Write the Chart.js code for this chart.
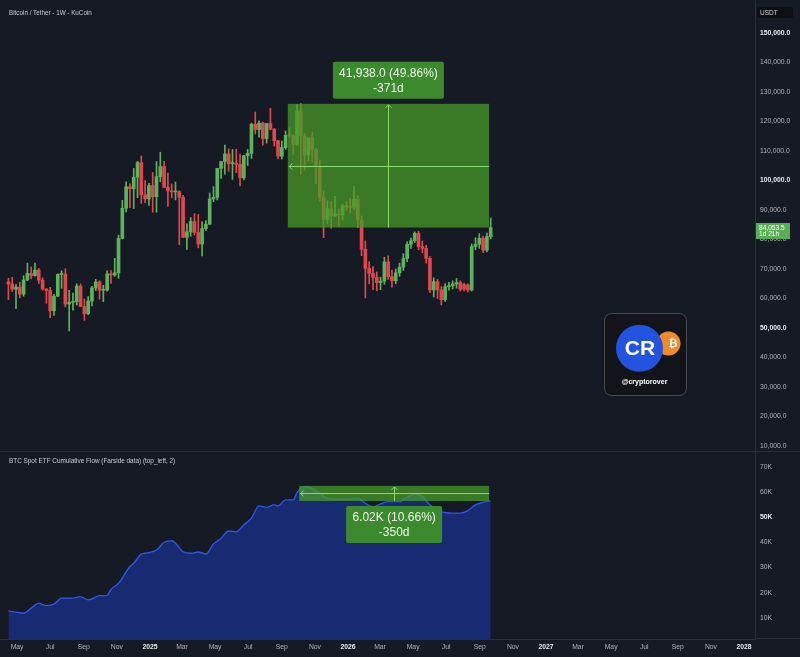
<!DOCTYPE html>
<html><head><meta charset="utf-8">
<script src="https://cdn.jsdelivr.net/npm/chart.js@4.4.1/dist/chart.umd.min.js"></script>
<style>
html,body{margin:0;padding:0;background:#161a25;}
#wrap{position:relative;width:800px;height:657px;background:#161a25;overflow:hidden;font-family:"Liberation Sans",Arial,sans-serif;}
canvas{position:absolute;left:0;}
#c1{top:0;} #c2{top:452px;}
.t{position:absolute;color:#c9ccd4;white-space:nowrap;}
</style></head><body>
<div id="wrap">
<canvas id="c1" width="800" height="452"></canvas>
<canvas id="c2" width="800" height="205"></canvas>
<div class="t" style="left:9px;top:9px;font-size:6.3px;">Bitcoin / Tether - 1W - KuCoin</div>
<div class="t" style="left:9px;top:457px;font-size:6.4px;">BTC Spot ETF Cumulative Flow (Farside data) (top_left, 2)</div>
</div>
<script>
// ---------- DATA ----------
const START_DATE = '2024-04-15'; // first weekly candle
const opens = [65660,64940,63120,63890,61480,66270,68510,67770,69650,66220,63210,62680,55860,60800,68170,68260,58120,58720,58900,64220,57300,54840,59130,63580,65600,62820,62850,68360,67980,68700,80370,90590,97900,97190,101110,106060,95190,93740,98300,94520,101330,104730,97700,96460,96120,96260,94270,80730,82580,86080,82390,78430,83730,85170,93750,94280,104120,106450,109000,105700,105730,105500,100900,108380,109200,119090,117270,119450,114210,119310,117410,113490,108250,111150,115300,115250,112200,123500,115100,108600,114500,110500,104700,94200,86800,90400,88000,88600,88300,91400,91000,90900,93600,86600,76700,70200,68500,67200,65400,65900,72400,67400,66000,68700,70600,73600,78400,79600,82100,77600,77000,73600,62900,65700,62900,59600,64000,64300,64900,65400,64700,64600,62900,77600,78400,80400,76400,81000];
const highs = [66870,67230,64730,65500,67700,71980,70690,72000,70200,67000,63370,63780,61420,68370,69400,70080,62750,61800,65000,64960,59810,60670,64130,66500,66000,64480,69400,69500,73620,81500,93270,99590,98870,104090,106530,108350,99960,99000,102720,106420,109590,106460,102500,98830,99480,96500,95000,85310,87470,88770,88500,86100,86430,95760,97900,104150,105820,111980,110720,110530,110600,108950,108530,110530,119490,123220,120250,119800,119310,124470,117630,113600,113400,116800,117900,115400,125700,126200,115970,114000,116400,110800,107000,96600,93100,92900,94600,90300,92000,92800,94000,97900,95000,88000,79500,72500,70800,69000,67200,74000,74500,69600,70000,72000,75200,79200,80500,82600,82800,79500,78000,74200,67000,66500,64000,65000,65500,66000,66800,66000,65200,65000,78500,80600,82000,81200,82200,87300];
const lows = [59600,62390,56550,60190,60750,66060,66670,67610,65080,62800,58400,53490,54260,60630,63460,57120,49000,56080,57790,57200,52550,54560,57490,62700,59830,58950,62460,65070,67480,66840,80220,89380,90790,90500,94150,92230,92500,91530,89260,89260,99550,97500,91230,94090,93390,78260,80600,76610,81130,81570,77150,74430,83100,85150,92800,93380,100720,102110,103070,100370,102660,98200,100200,105100,107470,115740,114720,112000,112650,117180,111680,107350,107270,110620,114700,108650,111950,102000,103500,106600,106300,98900,93000,80600,85300,83800,87700,84400,86600,89800,89000,90000,84000,74500,60200,65000,63000,62600,63000,64800,66500,63800,65000,67500,69500,72500,77000,79000,76500,75500,72000,62000,60500,60000,57800,59000,62800,63200,63500,62500,62600,62200,62500,76500,77000,75500,75800,80200];
const closes = [64940,63120,63890,61480,66270,68510,67770,69650,66220,63210,62680,55860,60800,68170,68260,58120,58720,58900,64220,57300,54840,59130,63580,65600,62820,62850,68360,67980,68700,80370,90590,97900,97190,101110,106060,95190,93740,98300,94520,101330,104730,97700,96460,96120,96260,94270,80730,82580,86080,82390,78430,83730,85170,93750,94280,104120,106450,109000,105700,105730,105500,100900,108380,109200,119090,117270,119450,114210,119310,117410,113490,108250,111150,115300,115250,112200,123500,115100,108600,114500,110500,104700,94200,86800,90400,88000,88600,88300,91400,91000,90900,93600,86600,76700,70200,68500,67200,65400,65900,72400,67400,66000,68700,70600,73600,78400,79600,82100,77600,77000,73600,62900,65700,62900,59600,64000,64300,64900,65400,63100,63200,62900,77600,78400,80400,76400,81000,84053.5];

// BTC spot ETF cumulative flow (thousands), read at week index
const etfWeeks = [0,2,4,6,8,9,10,12,14,17,19,21,24,26,27,29,32,33,35,36,39,41,43,44,46,48,50,52,54,56,58,60,62,64,66,68,70,71,73,75,76,78,80,82,84,87,90,92,94,96,98,100,103,104,107,109,111,114,117,119,121,123,125,126,127];
const etfFlow  = [12.7,12.2,11.8,13.8,15.8,15.2,14.8,15.4,17.8,17.8,18.4,17.1,18.8,18.9,21.3,23.7,30.4,31.7,35.4,35.7,37.0,40.1,40.7,39.7,36.3,35.7,36.2,35.4,39.4,41.7,44.6,44.3,47.0,49.7,54.6,54.0,55.0,54.6,57.0,57.0,59.9,62.3,61.6,59.6,57.6,57.2,57.2,57.6,55.6,54.3,55.4,56.3,56.3,57.0,59.4,58.3,55.0,52.3,51.7,51.7,52.7,55.0,56.0,56.3,56.6];

const priceTicks = [10000,20000,30000,40000,50000,60000,70000,80000,90000,100000,110000,120000,130000,140000,150000];
const priceBold = [50000,100000,150000];
const flowTicks = [10,20,30,40,50,60,70];
const flowBold = [50];
const monthTickDates = ['2024-05-01','2024-07-01','2024-09-01','2024-11-01','2025-01-01','2025-03-01','2025-05-01','2025-07-01','2025-09-01','2025-11-01','2026-01-01','2026-03-01','2026-05-01','2026-07-01','2026-09-01','2026-11-01','2027-01-01','2027-03-01','2027-05-01','2027-07-01','2027-09-01','2027-11-01','2028-01-01'];
const monthTickLabels = ['May','Jul','Sep','Nov','2025','Mar','May','Jul','Sep','Nov','2026','Mar','May','Jul','Sep','Nov','2027','Mar','May','Jul','Sep','Nov','2028'];

// measurement tools (price range / date range)
const rangeDays = [515, 886];
const rangePrices = [84053.5, 125991.5];
const rangeText = ['41,938.0 (49.86%)', '-371d'];
const flowRangeDays = [536, 886];
const flowRangeValues = [56.55, 62.57];
const flowRangeText = ['6.02K (10.66%)', '-350d'];
const lastPriceCountdown = '1d 21h';

// ---------- HELPERS ----------
const DAY = 86400000;
const dayOf = d => (Date.parse(d) - Date.parse(START_DATE)) / DAY;
const monthTickDays = monthTickDates.map(dayOf);
const X_MIN = -15.5, X_MAX = 1376.2;
const UP = '#5db35a', DOWN = '#e2474e';
const isUp = opens.map((o,i) => closes[i] >= o);
const candleX = opens.map((_, i) => i * 7);
const FONT = '"Liberation Sans", Arial, sans-serif';
Chart.defaults.font.family = FONT;

const fmtPrice = v => Number(v).toLocaleString('en-US', {minimumFractionDigits:1, maximumFractionDigits:1});
const tickVal = c => (c && c.tick) ? c.tick.value : null;
const isYear = c => (c && typeof c.index === 'number' && c.tick) ? /^\d{4}$/.test(monthTickLabels[c.index] || '') : false;

function rrect(ctx, x, y, w, h, r) {
  ctx.beginPath();
  ctx.moveTo(x + r, y); ctx.lineTo(x + w - r, y); ctx.quadraticCurveTo(x + w, y, x + w, y + r);
  ctx.lineTo(x + w, y + h - r); ctx.quadraticCurveTo(x + w, y + h, x + w - r, y + h);
  ctx.lineTo(x + r, y + h); ctx.quadraticCurveTo(x, y + h, x, y + h - r);
  ctx.lineTo(x, y + r); ctx.quadraticCurveTo(x, y, x + r, y); ctx.closePath();
}
function arrowHead(ctx, x, y, dir) {
  ctx.beginPath();
  if (dir === 'up') { ctx.moveTo(x-3, y+3); ctx.lineTo(x, y); ctx.lineTo(x+3, y+3); }
  else { ctx.moveTo(x+3, y-3); ctx.lineTo(x, y); ctx.lineTo(x+3, y+3); }
  ctx.stroke();
}
function drawRange(ctx, xs, ys, days, vals, texts, labelAbove, boxW) {
  const x0 = xs.getPixelForValue(days[0]), x1 = xs.getPixelForValue(days[1]);
  const yT = ys.getPixelForValue(vals[1]), yB = ys.getPixelForValue(vals[0]);
  ctx.save();
  ctx.fillStyle = 'rgba(72,156,40,0.74)';
  ctx.fillRect(x0, yT, x1 - x0, yB - yT);
  const xm = (x0 + x1) / 2, ym = (yT + yB) / 2;
  ctx.strokeStyle = '#86d86f'; ctx.lineWidth = 1;
  ctx.beginPath(); ctx.moveTo(x0 + 1, Math.round(ym) + 0.5); ctx.lineTo(x1, Math.round(ym) + 0.5); ctx.stroke();
  ctx.beginPath(); ctx.moveTo(Math.round(xm) + 0.5, yB); ctx.lineTo(Math.round(xm) + 0.5, yT + 1); ctx.stroke();
  arrowHead(ctx, Math.round(xm) + 0.5, yT + 1, 'up');
  arrowHead(ctx, x0 + 1.5, Math.round(ym) + 0.5, 'left');
  const bh = 37;
  const by = labelAbove ? yT - 5 - bh : yB + 5;
  ctx.fillStyle = '#3b8a2e';
  rrect(ctx, xm - boxW / 2, by, boxW, bh, 2); ctx.fill();
  ctx.fillStyle = '#eef7ea';
  ctx.font = '12px ' + FONT;
  ctx.textAlign = 'center'; ctx.textBaseline = 'middle';
  ctx.fillText(texts[0], xm, by + 12);
  ctx.fillText(texts[1], xm, by + 27);
  ctx.restore();
}

const commonX = {
  type: 'linear', min: X_MIN, max: X_MAX, offset: false,
  grid: {display: false}
};

// ---------- TOP: price pane ----------
const topPlugin = {
  id: 'topOverlay',
  afterDatasetsDraw(chart) {
    const {ctx, scales: {x, y}} = chart;
    drawRange(ctx, x, y, rangeDays, rangePrices, rangeText, true, 111);
  },
  afterDraw(chart) {
    const {ctx, scales: {y}} = chart;
    ctx.save();
    ctx.fillStyle = '#2a2e39';
    ctx.fillRect(0, 451, 800, 1);
    ctx.fillStyle = '#0e0f13';
    rrect(ctx, 757, 7, 36, 11, 2); ctx.fill();
    ctx.fillStyle = '#d1d4dc'; ctx.font = '6.5px ' + FONT;
    ctx.textAlign = 'left'; ctx.textBaseline = 'middle';
    ctx.fillText('USDT', 760, 12.8);
    const last = closes[closes.length - 1];
    const py = y.getPixelForValue(last);
    ctx.fillStyle = '#59ad55';
    ctx.fillRect(756, py - 4.5, 34, 16);
    ctx.fillStyle = '#ffffff'; ctx.font = '6.6px ' + FONT;
    ctx.fillText(fmtPrice(last), 759, py + 0.5);
    ctx.fillText(lastPriceCountdown, 759, py + 7);
    ctx.fillStyle = '#121419';
    ctx.strokeStyle = 'rgba(255,255,255,0.22)'; ctx.lineWidth = 1;
    rrect(ctx, 604.5, 313.5, 82, 82, 8); ctx.fill(); ctx.stroke();
    ctx.fillStyle = '#f08a2c';
    ctx.beginPath(); ctx.arc(668.5, 343.5, 12, 0, Math.PI * 2); ctx.fill();
    ctx.fillStyle = '#ffffff'; ctx.font = 'bold 11px ' + FONT; ctx.textAlign = 'center';
    ctx.fillText('₿', 673, 344);
    ctx.fillStyle = '#2354e0';
    ctx.beginPath(); ctx.arc(639.5, 348.3, 23.5, 0, Math.PI * 2); ctx.fill();
    ctx.fillStyle = '#ffffff'; ctx.font = 'bold 21px ' + FONT;
    ctx.fillText('CR', 640, 349);
    ctx.font = 'bold 7px ' + FONT;
    ctx.fillText('@cryptorover', 644.5, 382);
    ctx.restore();
  }
};

new Chart(document.getElementById('c1'), {
  type: 'bar',
  data: {
    datasets: [
      {
        label: 'wick', order: 2, grouped: false, barThickness: 1,
        data: candleX.map((x, i) => ({x, y: [lows[i], highs[i]]})),
        backgroundColor: isUp.map(u => u ? UP : DOWN)
      },
      {
        label: 'body', order: 1, grouped: false, barThickness: 3, minBarLength: 1,
        data: candleX.map((x, i) => ({x, y: [opens[i], closes[i]]})),
        backgroundColor: isUp.map(u => u ? UP : DOWN)
      }
    ]
  },
  options: {
    responsive: false, animation: false, devicePixelRatio: 1,
    layout: {padding: 0},
    plugins: {legend: {display: false}, tooltip: {enabled: false}},
    scales: {
      x: Object.assign({}, commonX, {display: false}),
      y: {
        type: 'linear', position: 'right', min: 7966, max: 161186,
        grid: {display: false, drawTicks: false},
        border: {display: true, color: '#2a2e39'},
        afterBuildTicks: s => { s.ticks = priceTicks.map(v => ({value: v})); },
        afterFit: s => { s.width = 45; s.paddingTop = 0; s.paddingBottom = 0; },
        ticks: {
          padding: 5,
          callback: v => fmtPrice(v),
          color: c => priceBold.includes(tickVal(c)) ? '#e6e8ee' : '#aeb2bd',
          font: c => ({family: FONT, size: 6.8, weight: priceBold.includes(tickVal(c)) ? 'bold' : 'normal'})
        }
      }
    }
  },
  plugins: [topPlugin]
});

// ---------- BOTTOM: ETF flow pane ----------
const bottomPlugin = {
  id: 'bottomOverlay',
  afterDatasetsDraw(chart) {
    const {ctx, scales: {x, y}} = chart;
    drawRange(ctx, x, y, flowRangeDays, flowRangeValues, flowRangeText, false, 96);
  },
  afterDraw(chart) {
    const {ctx} = chart;
    ctx.save();
    ctx.fillStyle = '#2a2e39';
    ctx.fillRect(755, 186, 45, 1);
    ctx.restore();
  }
};

new Chart(document.getElementById('c2'), {
  type: 'line',
  data: {
    datasets: [{
      data: etfWeeks.map((w, i) => ({x: w * 7, y: etfFlow[i]})),
      borderColor: '#2e55e6', borderWidth: 1.4,
      backgroundColor: '#182b72', fill: 'start',
      pointRadius: 0, tension: 0.35, cubicInterpolationMode: 'monotone'
    }]
  },
  options: {
    responsive: false, animation: false, devicePixelRatio: 1,
    layout: {padding: 0},
    plugins: {legend: {display: false}, tooltip: {enabled: false}},
    scales: {
      x: Object.assign({}, commonX, {
        display: true, position: 'bottom',
        border: {display: true, color: '#2a2e39'},
        grid: {display: false, drawTicks: false},
        afterBuildTicks: s => { s.ticks = monthTickDays.map(v => ({value: v})); },
        afterFit: s => { s.height = 18; s.paddingLeft = 0; s.paddingRight = 0; },
        ticks: {
          autoSkip: false, maxRotation: 0, minRotation: 0, padding: 4,
          callback: (v, i) => monthTickLabels[i],
          color: c => isYear(c) ? '#e6e8ee' : '#aeb2bd',
          font: c => ({family: FONT, size: 6.8, weight: isYear(c) ? 'bold' : 'normal'})
        }
      }),
      y: {
        type: 'linear', position: 'right', min: 1.5, max: 76.1,
        grid: {display: false, drawTicks: false},
        border: {display: true, color: '#2a2e39'},
        afterBuildTicks: s => { s.ticks = flowTicks.map(v => ({value: v})); },
        afterFit: s => { s.width = 45; s.paddingTop = 0; s.paddingBottom = 0; },
        ticks: {
          padding: 5,
          callback: v => v + 'K',
          color: c => flowBold.includes(tickVal(c)) ? '#e6e8ee' : '#aeb2bd',
          font: c => ({family: FONT, size: 6.8, weight: flowBold.includes(tickVal(c)) ? 'bold' : 'normal'})
        }
      }
    }
  },
  plugins: [bottomPlugin]
});
</script>
</body></html>
